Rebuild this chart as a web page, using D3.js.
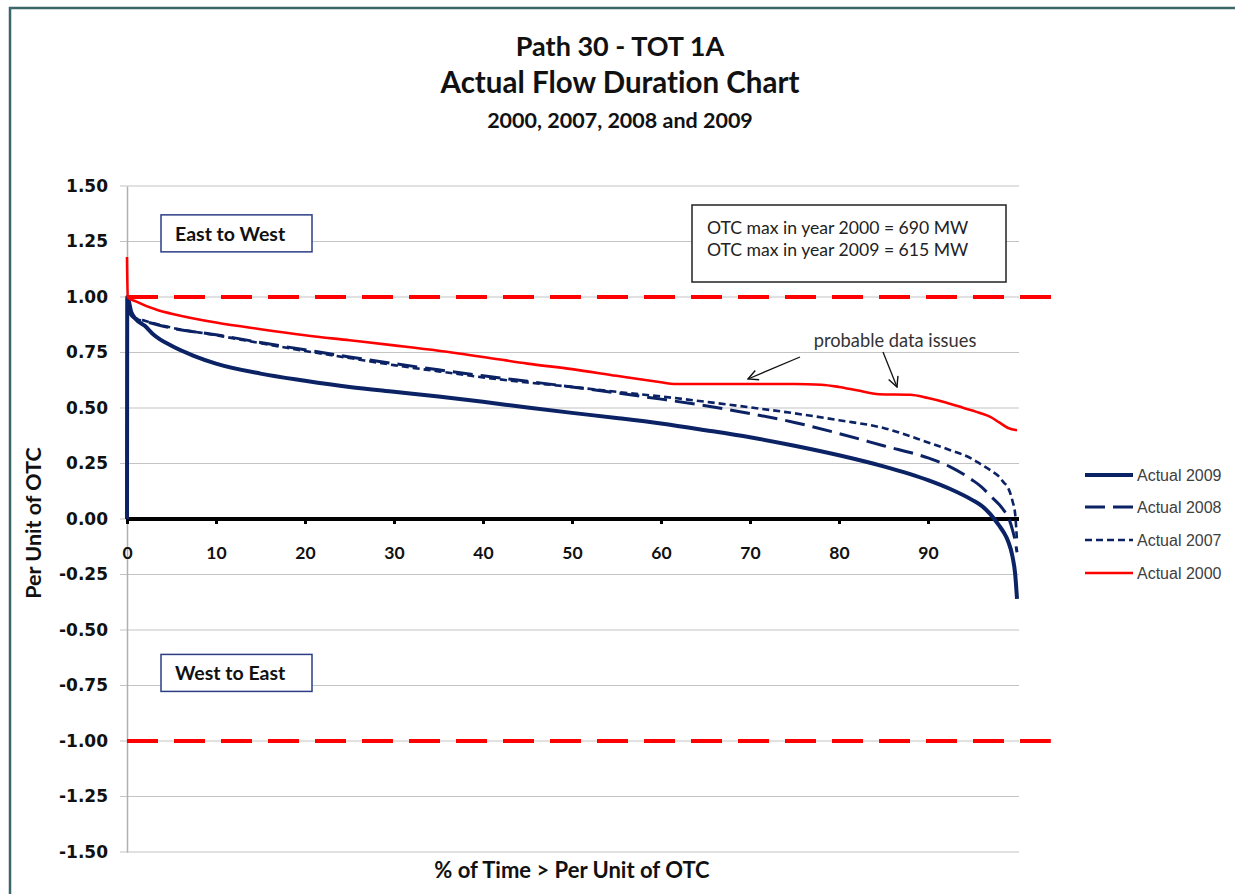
<!DOCTYPE html>
<html>
<head>
<meta charset="utf-8">
<script src="https://cdn.jsdelivr.net/npm/d3@7"></script>
<style>
  html, body { margin: 0; padding: 0; background: #fff; }
  svg { display: block; }
  text { font-variant-ligatures: none; font-feature-settings: "liga" 0, "clig" 0; }
</style>
</head>
<body>
<svg id="chart" width="1235" height="894"></svg>
<script>
// ---------- DATA ----------
const titleLines = ["Path 30 - TOT 1A", "Actual Flow Duration Chart", "2000, 2007, 2008 and 2009"];
const yTicks = [1.5, 1.25, 1.0, 0.75, 0.5, 0.25, 0, -0.25, -0.5, -0.75, -1.0, -1.25, -1.5];
const yTickLabels = ["1.50", "1.25", "1.00", "0.75", "0.50", "0.25", "0.00", "-0.25", "-0.50", "-0.75", "-1.00", "-1.25", "-1.50"];
const xTicks = [0, 10, 20, 30, 40, 50, 60, 70, 80, 90];
const xTickLabels = ["0", "10", "20", "30", "40", "50", "60", "70", "80", "90"];

// % of time (x) for each series
const x2009 = [0, 0.03, 0.5, 1, 2, 3, 5, 7.5, 10, 15, 20, 25, 30, 35, 40, 45, 50, 55, 60, 65, 70, 75, 80, 85, 90, 92.5, 95, 96, 97, 98, 98.5, 99, 99.5, 99.8, 100];
const y2009 = [0, 1.0, 0.93, 0.9, 0.87, 0.83, 0.78, 0.735, 0.70, 0.655, 0.623, 0.595, 0.573, 0.552, 0.528, 0.502, 0.478, 0.455, 0.43, 0.40, 0.368, 0.33, 0.287, 0.237, 0.175, 0.135, 0.085, 0.06, 0.022, -0.03, -0.06, -0.1, -0.17, -0.25, -0.36];

const x2008 = [0, 0.5, 1, 2, 5, 10, 15, 20, 25, 30, 35, 40, 45, 50, 55, 60, 65, 70, 75, 80, 85, 90, 92.5, 95, 96, 97, 98, 98.5, 99, 99.5, 99.8, 100];
const y2008 = [0.95, 0.915, 0.90, 0.89, 0.86, 0.83, 0.795, 0.762, 0.73, 0.70, 0.672, 0.645, 0.62, 0.595, 0.568, 0.54, 0.51, 0.475, 0.435, 0.385, 0.33, 0.275, 0.235, 0.175, 0.145, 0.105, 0.065, 0.04, 0.01, -0.05, -0.1, -0.15];

const x2007 = [0, 0.5, 1, 2, 5, 10, 15, 20, 25, 30, 35, 40, 45, 50, 55, 60, 65, 70, 75, 80, 85, 90, 92.5, 95, 96, 97, 98, 98.5, 99, 99.5, 99.8, 100];
const y2007 = [0.96, 0.92, 0.905, 0.893, 0.862, 0.828, 0.792, 0.757, 0.725, 0.693, 0.665, 0.638, 0.615, 0.595, 0.573, 0.552, 0.528, 0.503, 0.476, 0.445, 0.41, 0.345, 0.31, 0.27, 0.245, 0.22, 0.19, 0.165, 0.14, 0.08, 0.02, -0.1];

const x2000 = [0, 0.08, 1, 3.5, 5, 10, 15, 20, 25, 30, 35, 40, 45, 50, 55, 60, 61.5, 65, 70, 75, 78, 80, 82, 84.5, 88, 90, 92, 94, 96, 97, 98, 99, 100];
const y2000 = [1.18, 1.0, 0.98, 0.94, 0.925, 0.885, 0.855, 0.828, 0.805, 0.782, 0.758, 0.73, 0.70, 0.675, 0.645, 0.616, 0.608, 0.608, 0.608, 0.608, 0.605, 0.595, 0.58, 0.562, 0.56, 0.545, 0.525, 0.5, 0.475, 0.46, 0.435, 0.41, 0.40];

const seriesNames = ["Actual 2009", "Actual 2008", "Actual 2007", "Actual 2000"];

// OTC limit lines (value, x extent in % of time)
const limitValues = [1.0, -1.0];
const limitEnds = [104.8, 103.8];

const otcLines = ["OTC max in year 2000 = 690 MW", "OTC max in year 2009 = 615 MW"];
const noteText = "probable data issues";
const dirLabels = ["East to West", "West to East"];
const xAxisTitle = "% of Time > Per Unit of OTC";
const yAxisTitle = "Per Unit of OTC";

// ---------- LAYOUT ----------
const svg = d3.select("#chart");
const navy = "#0b2265";
const red = "#ff0000";
const titleFont = "Lato, 'Open Sans', sans-serif";
const tickFont = "'DejaVu Sans', Verdana, sans-serif";

const x = d3.scaleLinear().domain([0, 100]).range([127, 1017]);
const y = d3.scaleLinear().domain([-1.5, 1.5]).range([852, 186]);

// outer frame
svg.append("rect").attr("x", 10).attr("y", 8).attr("width", 1240).attr("height", 900)
  .attr("fill", "#fff").attr("stroke", "#3d6669").attr("stroke-width", 2.5);

// titles
const titleSizes = [27, 29.5, 21.5];
const titleY = [56, 93, 128];
titleLines.forEach((t, i) => {
  svg.append("text").attr("x", 620).attr("y", titleY[i]).attr("text-anchor", "middle")
    .attr("font-family", titleFont).attr("font-weight", "bold").attr("font-size", titleSizes[i])
    .attr("fill", "#111").text(t);
});

// gridlines
svg.append("g").selectAll("line").data(yTicks).join("line")
  .attr("x1", 120).attr("x2", 1019)
  .attr("y1", d => y(d)).attr("y2", d => y(d))
  .attr("stroke", "#c4c4c4").attr("stroke-width", 1.2);

// y axis
const yAxis = d3.axisLeft(y).tickValues(yTicks).tickFormat((d, i) => yTickLabels[i]).tickSize(0).tickPadding(19);
const gy = svg.append("g").attr("transform", `translate(${x(0)},0)`).call(yAxis);
gy.select(".domain").attr("stroke", "#b0b0b0").attr("stroke-width", 1.5);
gy.selectAll("text").attr("font-family", tickFont).attr("font-weight", "bold").attr("font-size", 17).attr("fill", "#111");

// limit lines
svg.append("g").selectAll("line").data(limitValues).join("line")
  .attr("x1", x(0)).attr("x2", (d, i) => x(limitEnds[i]))
  .attr("y1", d => y(d)).attr("y2", d => y(d))
  .attr("stroke", red).attr("stroke-width", 4).attr("stroke-dasharray", "31,16");

// x axis at 0
const xAxis = d3.axisBottom(x).tickValues(xTicks).tickFormat((d, i) => xTickLabels[i]).tickSize(5).tickPadding(23);
const gx = svg.append("g").attr("transform", `translate(0,${y(0)})`).call(xAxis);
gx.select(".domain").remove();
gx.selectAll(".tick line").attr("stroke", "#000").attr("stroke-width", 3);
gx.selectAll("text").attr("font-family", titleFont).attr("font-weight", "bold").attr("font-size", 17.5).attr("fill", "#111");
svg.append("line").attr("x1", x(0)).attr("x2", 1019).attr("y1", y(0)).attr("y2", y(0))
  .attr("stroke", "#000").attr("stroke-width", 4);

// series
const series = [
  { xs: x2009, ys: y2009, color: navy, width: 4, dash: null },
  { xs: x2008, ys: y2008, color: navy, width: 3, dash: "20,8" },
  { xs: x2007, ys: y2007, color: navy, width: 2.6, dash: "7,4" },
  { xs: x2000, ys: y2000, color: red, width: 2.6, dash: null }
];
const line = d3.line().x(d => x(d[0])).y(d => y(d[1])).curve(d3.curveMonotoneX);
series.forEach(s => {
  const pts = s.xs.map((v, i) => [v, s.ys[i]]);
  svg.append("path").datum(pts).attr("d", line).attr("fill", "none")
    .attr("stroke", s.color).attr("stroke-width", s.width)
    .attr("stroke-dasharray", s.dash).attr("stroke-linejoin", "round");
});

// legend
const legY = [475, 507, 540, 573];
seriesNames.forEach((n, i) => {
  const s = series[i];
  svg.append("line").attr("x1", 1085).attr("x2", 1133).attr("y1", legY[i]).attr("y2", legY[i])
    .attr("stroke", s.color).attr("stroke-width", s.width).attr("stroke-dasharray", s.dash);
  svg.append("text").attr("x", 1137).attr("y", legY[i] + 6).attr("font-family", "'Liberation Sans', Arial, sans-serif")
    .attr("font-size", 16).attr("fill", "#404040").text(n);
});

// direction boxes
const dirBoxY = [y(1.37), y(-0.61)];
dirLabels.forEach((t, i) => {
  svg.append("rect").attr("x", 161).attr("y", dirBoxY[i]).attr("width", 151).attr("height", 37)
    .attr("fill", "#fff").attr("stroke", "#2c3d86").attr("stroke-width", 1.5);
  svg.append("text").attr("x", 175).attr("y", dirBoxY[i] + 26).attr("font-family", titleFont)
    .attr("font-weight", "bold").attr("font-size", 19.5).attr("fill", "#111").text(t);
});

// OTC box
svg.append("rect").attr("x", 692).attr("y", 205).attr("width", 314).attr("height", 77)
  .attr("fill", "#fff").attr("stroke", "#222").attr("stroke-width", 1.5);
otcLines.forEach((t, i) => {
  svg.append("text").attr("x", 707).attr("y", 234 + i * 22).attr("font-family", titleFont)
    .attr("font-size", 17.6).attr("fill", "#222").text(t);
});

// note + arrows
svg.append("text").attr("x", 895).attr("y", 347).attr("text-anchor", "middle").attr("font-family", titleFont)
  .attr("font-size", 18.3).attr("fill", "#333").text(noteText);
svg.append("defs").append("marker").attr("id", "arr").attr("viewBox", "0 0 12 12").attr("refX", 11).attr("refY", 6)
  .attr("markerWidth", 12).attr("markerHeight", 12).attr("markerUnits", "userSpaceOnUse").attr("orient", "auto")
  .append("path").attr("d", "M1,1 L11,6 L1,11").attr("fill", "none").attr("stroke", "#111").attr("stroke-width", 1.4);
const arrows = [[800, 357, 748, 379], [883, 352, 897, 387]];
arrows.forEach(a => {
  svg.append("line").attr("x1", a[0]).attr("y1", a[1]).attr("x2", a[2]).attr("y2", a[3])
    .attr("stroke", "#111").attr("stroke-width", 1.3).attr("marker-end", "url(#arr)");
});

// axis titles
svg.append("text").attr("x", 572).attr("y", 878).attr("text-anchor", "middle").attr("font-family", titleFont)
  .attr("font-weight", "bold").attr("font-size", 22).attr("fill", "#111").text(xAxisTitle);
svg.append("text").attr("transform", "translate(41,523) rotate(-90)").attr("text-anchor", "middle")
  .attr("font-family", titleFont).attr("font-weight", "bold").attr("font-size", 21.5).attr("fill", "#111").text(yAxisTitle);
</script>
</body>
</html>
